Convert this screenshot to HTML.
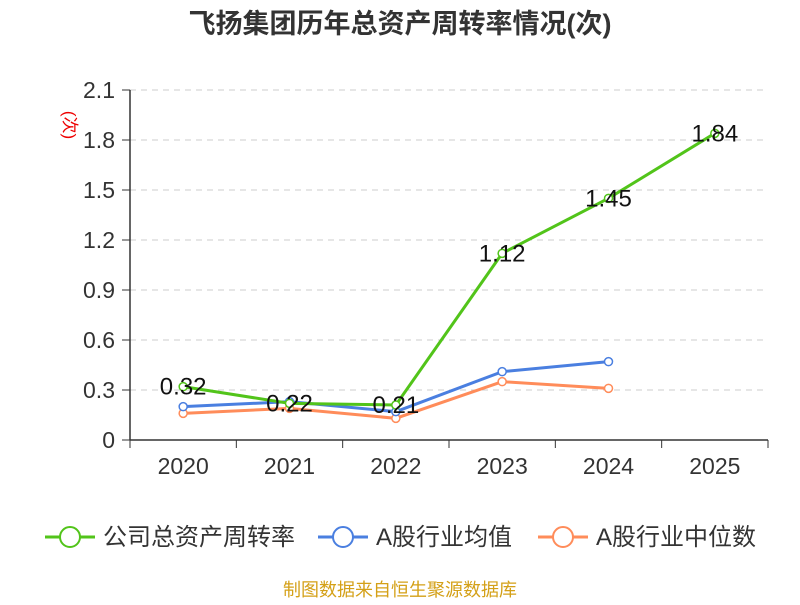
<!DOCTYPE html>
<html><head><meta charset="utf-8"><style>
body{margin:0;background:#fff;width:800px;height:600px;overflow:hidden}
svg{font-family:"Liberation Sans","Noto Sans CJK SC",sans-serif}
</style></head><body>
<svg id="c" width="800" height="600"></svg>
<script>
const categories=["2020","2021","2022","2023","2024","2025"];
const companyValues=[0.32,0.22,0.21,1.12,1.45,1.84];
const avgValues=[0.20,0.23,0.17,0.41,0.47];
const medianValues=[0.16,0.19,0.13,0.35,0.31];
const yTicks=[0,0.3,0.6,0.9,1.2,1.5,1.8,2.1];
const yTickLabels=["0","0.3","0.6","0.9","1.2","1.5","1.8","2.1"];
const seriesNames=["公司总资产周转率","A股行业均值","A股行业中位数"];
const seriesColors=["#52c41a","#4a7fe0","#ff8c5a"];

const NS="http://www.w3.org/2000/svg";
const svg=document.getElementById('c');
const L=130,R=768,T=90,B=440,yMax=2.1;
const bw=(R-L)/categories.length;
const x=i=>L+bw*(i+0.5);
const y=v=>B-(v/yMax)*(B-T);
function mk(tag,attrs,parent){const e=document.createElementNS(NS,tag);for(const k in attrs)e.setAttribute(k,attrs[k]);(parent||svg).appendChild(e);return e;}

let t=mk('text',{x:400,y:33,'text-anchor':'middle','font-size':27,'font-weight':'bold',fill:'#333'});
t.textContent='飞扬集团历年总资产周转率情况(次)';



yTicks.forEach((v,i)=>{
  if(v>0){const g=mk('line',{x1:L,x2:R,y1:y(v),y2:y(v),stroke:'#ccc','stroke-dasharray':'6,5'});
  
  }
  const tk=mk('line',{x1:L-8,x2:L,y1:y(v),y2:y(v),stroke:'#333'});
  
  
  const lb=mk('text',{x:L-15,y:y(v)+8,'text-anchor':'end','font-size':23,fill:'#333'});
  lb.textContent=yTickLabels[i];
  
  
});
let ax=mk('line',{x1:L,x2:L,y1:T,y2:B,stroke:'#333','stroke-width':1.5});


let xa=mk('line',{x1:L,x2:R,y1:B,y2:B,stroke:'#333','stroke-width':1.5});


for(let i=0;i<=categories.length;i++){
  const tk=mk('line',{x1:L+bw*i,x2:L+bw*i,y1:B,y2:B+8,stroke:'#333'});
  
  
}
categories.forEach((c,i)=>{
  const lb=mk('text',{x:x(i),y:474,'text-anchor':'middle','font-size':23,fill:'#333'});
  lb.textContent=c;
  
  
});
let yl=mk('text',{x:0,y:0,transform:'translate(64,125) rotate(90)','text-anchor':'middle','font-size':17,fill:'#e00'});
yl.textContent='(次)';



[companyValues,avgValues,medianValues].slice().reverse().forEach((vals,ri)=>{
  const si=2-ri;
  const pl=mk('polyline',{points:vals.map((v,i)=>x(i)+','+y(v)).join(' '),fill:'none',stroke:seriesColors[si],'stroke-width':3});
  
  
  vals.forEach((v,i)=>{
    const c=mk('circle',{cx:x(i),cy:y(v),r:4,fill:'#fff',stroke:seriesColors[si],'stroke-width':1.5});
    
    
  });
});
companyValues.forEach((v,i)=>{
  const lb=mk('text',{x:x(i),y:y(v)+8,'text-anchor':'middle','font-size':24,fill:'#111'});
  lb.textContent=v.toFixed(2);
  
  
});

const lx=[45,318,538];
seriesNames.forEach((n,i)=>{
  const g=mk('g',{});
  
  
  mk('line',{x1:lx[i],x2:lx[i]+50,y1:537,y2:537,stroke:seriesColors[i],'stroke-width':3},g);
  mk('circle',{cx:lx[i]+25,cy:537,r:10,fill:'#fff',stroke:seriesColors[i],'stroke-width':2},g);
  const tx=mk('text',{x:lx[i]+58,y:545,'font-size':24,fill:'#333'},g);
  tx.textContent=n;
});
let src=mk('text',{x:400,y:596,'text-anchor':'middle','font-size':18,fill:'#d4a017'});
src.textContent='制图数据来自恒生聚源数据库';


</script>
</body></html>
